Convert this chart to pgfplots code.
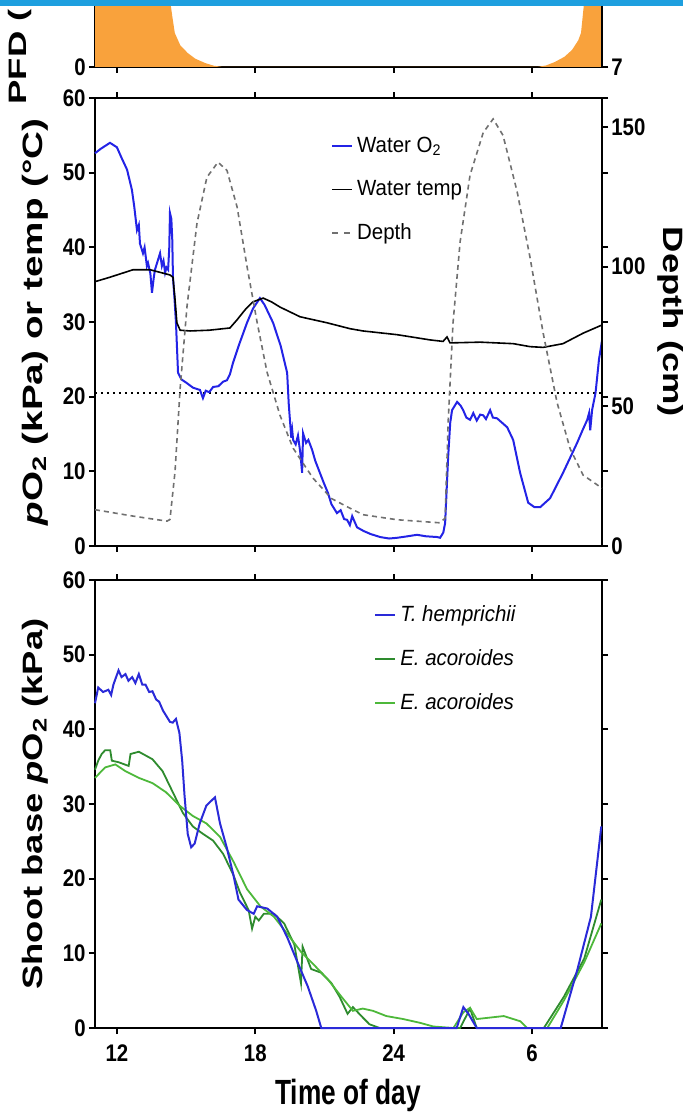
\documentclass[border=0pt]{standalone}
\usepackage{fontspec}
\setmainfont{Liberation Sans}
\newfontfamily\tickfont{Liberation Sans}[FakeStretch=0.85]
\newfontfamily\labfont{Liberation Sans}[FakeStretch=0.75]
\newfontfamily\legfont{Liberation Sans}[FakeStretch=0.93]
\newfontfamily\vfont{Liberation Sans}[FakeStretch=1.3]
\newfontfamily\vfontwide{Liberation Sans}[FakeStretch=1.38]
\newfontfamily\pfdfont{Liberation Sans}[FakeStretch=1.45]
\usepackage{pgfplots}
\pgfplotsset{compat=1.18}
\definecolor{o2blue}{HTML}{2323E6}
\definecolor{thblue}{HTML}{2A2AD8}
\definecolor{dkgreen}{HTML}{2E8B2E}
\definecolor{ltgreen}{HTML}{4DB83A}
\definecolor{pfdorange}{HTML}{F9A23C}
\definecolor{depthgray}{HTML}{707070}
\definecolor{bandblue}{HTML}{1E9FDF}

\tikzset{vlab/.style={font=\vfont\bfseries\fontsize{14}{16}\selectfont}}
\pgfplotsset{
  panel/.style={
    scale only axis, width=253.5pt, anchor=south west,
    xmin=11.05, xmax=33.03,
    xtick={12,18,24,30}, xticklabels={12,18,24,6},
    axis line style={line width=1pt},
    tick align=outside, major tick length=3pt,
    every tick/.style={line width=0.9pt, black},
    tick label style={font=\tickfont\bfseries\fontsize{12}{12}\selectfont},
    /pgf/number format/assume math mode=true,
    yticklabel style={inner sep=1.5pt},
    xticklabel style={yshift=-2pt},
  },
  shortleg/.style={legend image code/.code={\draw[##1] (0pt,0pt) -- (10pt,0pt);}},
}

\begin{document}
\begin{tikzpicture}
\begin{scope}
\clip (0,0) rectangle (341.5pt,557.5pt);

% PFD panel (only its lower part is in view)
\begin{axis}[panel, at={(47.5pt,524pt)}, height=63.5pt,
  ymin=0, ymax=1000, ytick={0}, xticklabels={}]
\addplot[fill=pfdorange, draw=none] coordinates {
  (11.05,1300) (13.9,1300) (14.15,1000) (14.25,600) (14.4,400) (14.51,268)
  (14.75,170) (15.07,110) (15.4,65) (15.83,31) (16.2,10) (16.59,0)
  (30.22,0) (30.6,12) (30.98,39) (31.4,80) (31.73,134) (32.0,210)
  (32.12,268) (32.25,500) (32.35,1300) (33.03,1300)
} \closedcycle;
\end{axis}
\begin{axis}[scale only axis, width=253.5pt, height=63.5pt, anchor=south west,
  at={(47.5pt,524pt)}, axis x line=none, axis y line*=right,
  ymin=7, ymax=8, ytick={7}, xmin=11.05, xmax=33.03,
  axis line style={line width=1pt}, tick align=outside, major tick length=3pt,
  every tick/.style={line width=0.9pt, black},
  tick label style={font=\tickfont\bfseries\fontsize{12}{12}\selectfont},
  /pgf/number format/assume math mode=true, yticklabel style={inner sep=1.5pt}]
\end{axis}

% water O2, temperature and depth
\begin{axis}[panel, at={(47.5pt,284.5pt)}, height=224pt, clip=false,
  ymin=0, ymax=60, ytick={0,10,...,60}, xticklabels={},
  ylabel={\textit{p}O\textsubscript{2} (kPa) or temp (°C)},
  ylabel style={font=\vfontwide\bfseries\fontsize{14}{16}\selectfont,
    at={(axis description cs:-0.118,0.5)}, anchor=center},
  shortleg, legend cell align=left,
  legend style={draw=none, fill=none, at={(axis description cs:0.465,0.923)},
    anchor=north west, row sep=8.5pt, inner sep=0pt,
    font=\legfont\fontsize{11}{13}\selectfont,
    nodes={inner sep=2pt}}]
\addplot[black, dotted, line width=1pt, forget plot] coordinates {(11.05,20.5) (33.03,20.5)};
\addplot[o2blue, line width=1pt] coordinates {
  (11.05,52.6) (11.3,53.2) (11.5,53.6) (11.7,54.0) (11.85,53.7) (12.0,53.4)
  (12.2,52.0) (12.44,50.4) (12.65,47.7) (12.75,45.5) (12.87,42.3) (12.95,43.0)
  (13.0,40.5) (13.13,39.2) (13.2,40.0) (13.3,37.5) (13.35,37.9) (13.45,36.5)
  (13.52,33.9) (13.6,36.0) (13.65,37.0) (13.75,38.0) (13.87,39.2) (13.95,37.5)
  (14.02,38.2) (14.09,36.6) (14.15,37.3) (14.22,37.0) (14.27,40.0) (14.3,44.6)
  (14.36,43.8) (14.4,41.0) (14.43,36.0) (14.5,33.0) (14.56,29.9) (14.65,23.2)
  (14.8,22.3) (15.04,21.8) (15.3,21.2) (15.5,21.0) (15.6,20.9) (15.73,19.8)
  (15.85,20.8) (16.0,20.6) (16.17,21.3) (16.4,21.4) (16.6,22.0) (16.77,22.2)
  (16.9,23.0) (17.03,24.5) (17.3,27.0) (17.64,29.9) (17.9,31.8) (18.2,33.2)
  (18.4,32.3) (18.77,29.9) (19.1,26.8) (19.38,23.2) (19.45,19.0) (19.51,16.5)
  (19.56,14.5) (19.6,15.5) (19.64,14.2) (19.75,13.6) (19.85,14.8) (19.95,12.5)
  (20.03,9.8) (20.07,15.1) (20.2,13.8) (20.3,14.2) (20.46,12.9) (20.6,11.4)
  (20.8,9.8) (20.95,8.6) (21.15,7.1) (21.3,5.6) (21.54,4.4) (21.7,4.8)
  (21.85,3.6) (21.98,3.5) (22.1,2.8) (22.2,4.0) (22.41,2.5) (22.7,2.0)
  (23.0,1.6) (23.41,1.2) (23.8,1.0) (24.15,1.1) (24.6,1.3) (25.01,1.5)
  (25.4,1.3) (25.88,1.2) (26.01,1.1) (26.15,1.8) (26.23,3.1) (26.36,11.9)
  (26.45,16.5) (26.53,18.2) (26.75,19.3) (26.9,18.8) (27.01,18.2) (27.15,17.2)
  (27.31,16.9) (27.45,17.8) (27.6,16.8) (27.75,17.6) (27.88,17.5) (28.0,17.0)
  (28.18,18.2) (28.3,17.2) (28.48,17.1) (28.7,16.5) (28.92,15.9) (29.18,14.2)
  (29.48,9.8) (29.83,5.8) (30.1,5.2) (30.35,5.2) (30.78,6.4) (31.34,9.8)
  (31.95,13.8) (32.2,15.6) (32.39,16.9) (32.47,17.8) (32.52,15.5) (32.6,18.2)
  (32.75,20.5) (32.82,22.6) (32.9,25.0) (33.03,27.5)
};
\addlegendentry{Water O\textsubscript{2}}
\addplot[black, line width=0.8pt] coordinates {
  (11.05,35.4) (11.7,36.0) (12.7,37.0) (13.44,37.0) (14.3,36.3) (14.43,36.0)
  (14.52,33.0) (14.6,29.9) (14.74,28.9) (15.17,28.8) (16.0,28.9) (16.9,29.2)
  (17.21,30.3) (17.6,31.8) (17.9,32.7) (18.34,33.2) (18.7,32.7) (19.07,32.0)
  (19.94,30.7) (21.1,29.9) (22.11,29.1) (22.67,28.8) (24.15,28.3) (25.58,27.6)
  (26.14,27.4) (26.31,28.0) (26.44,27.2) (27.75,27.3) (29.18,27.1) (29.91,26.7)
  (30.48,26.6) (31.34,27.1) (32.21,28.5) (33.03,29.6)
};
\addlegendentry{Water temp}
\addlegendimage{depthgray, dashed, line width=0.8pt}
\addlegendentry{Depth}
\end{axis}
\begin{axis}[scale only axis, width=253.5pt, height=224pt, anchor=south west,
  at={(47.5pt,284.5pt)}, axis x line=none, axis y line*=right, clip=false,
  xmin=11.05, xmax=33.03, ymin=0, ymax=160.4, ytick={0,50,100,150},
  axis line style={line width=1pt}, tick align=outside, major tick length=3pt,
  every tick/.style={line width=0.9pt, black},
  tick label style={font=\tickfont\bfseries\fontsize{12}{12}\selectfont},
  /pgf/number format/assume math mode=true, yticklabel style={inner sep=1.5pt},
  ylabel={Depth (cm)},
  ylabel style={vlab, at={(axis description cs:1.136,0.5)}, anchor=center, rotate=180}]
\addplot[depthgray, line width=0.8pt, dash pattern=on 2.5pt off 2pt] coordinates {
  (11.05,13.0) (12.7,10.7) (14.17,8.9) (14.3,9.5) (14.52,26.7) (14.74,56.3)
  (15.04,85.9) (15.47,115.5) (15.9,132) (16.38,137.4) (16.77,134.5) (17.21,121.4)
  (17.64,100.1) (18.08,80) (18.51,62.2) (19.07,46.8) (19.64,35) (20.5,24.3)
  (21.3,17.0) (22.11,13.5) (22.67,11.2) (24.15,9.4) (26.01,8.3) (26.23,10)
  (26.36,44.3) (26.57,79.7) (26.88,109) (27.31,132.8) (27.88,148) (28.31,152.9)
  (28.74,147) (29.35,126.9) (29.91,103.3) (30.48,76.2) (31.08,51.4) (31.65,34.8)
  (32.21,25.4) (33.03,20.7)
};
\end{axis}

% shoot base pO2
\begin{axis}[panel, at={(47.5pt,43.5pt)}, height=224pt, clip=false,
  ymin=0, ymax=60, ytick={0,10,...,60},
  xlabel={Time of day},
  xlabel style={font=\labfont\bfseries\fontsize{17.5}{19}\selectfont,
    at={(axis description cs:0.499,-0.15)}, anchor=center},
  ylabel={Shoot base \textit{p}O\textsubscript{2} (kPa)},
  ylabel style={vlab, at={(axis description cs:-0.118,0.5)}, anchor=center},
  shortleg, legend cell align=left,
  legend style={draw=none, fill=none, at={(axis description cs:0.55,0.952)},
    anchor=north west, row sep=8.5pt, inner sep=0pt,
    font=\legfont\fontsize{11}{13}\selectfont,
    nodes={inner sep=2pt}}]
\addplot[dkgreen, line width=0.9pt, forget plot] coordinates {
  (11.05,34.6) (11.19,35.8) (11.34,36.7) (11.49,37.2) (11.71,37.2) (11.78,35.8)
  (12.07,35.6) (12.51,35.1) (12.59,36.7) (12.95,37.0) (13.54,36.0) (13.98,34.4)
  (14.42,31.6) (14.86,28.8) (15.29,27.0) (15.73,26.0) (16.17,25.1) (16.61,23.3)
  (17.05,20.5) (17.34,18.1) (17.71,15.8) (17.86,13.3) (18.0,14.9) (18.15,14.4)
  (18.37,15.3) (18.81,15.3) (19.25,14.0) (19.69,11.2) (19.98,6.0) (20.05,10.9)
  (20.42,7.9) (20.86,7.4) (21.3,6.0) (21.65,4.2) (22.0,1.9) (22.23,2.8)
  (22.66,1.4) (22.95,0.5) (23.39,0) (26.88,0) (27.31,2.6) (27.6,0)
  (30.51,0) (31.38,4.2) (32.26,9.3) (33.0,17.2)
};
\addplot[ltgreen, line width=0.9pt, forget plot] coordinates {
  (11.05,33.5) (11.49,34.9) (11.93,35.3) (12.37,34.4) (12.95,33.5) (13.54,32.8)
  (14.12,31.6) (14.71,29.8) (15.29,28.4) (15.88,27.4) (16.47,25.6) (17.05,22.3)
  (17.64,18.6) (18.22,16.3) (18.81,14.9) (19.39,12.6) (19.98,10.2) (20.56,8.4)
  (21.15,6.5) (21.73,4.2) (22.23,2.3) (22.66,2.6) (23.1,2.3) (23.68,1.6)
  (24.41,1.2) (25.13,0.7) (25.72,0.2) (26.59,0) (27.02,2.1) (27.31,2.7)
  (27.6,1.2) (28.19,1.4) (28.77,1.6) (29.49,0.9) (29.78,0) (30.66,0)
  (31.38,3.7) (32.26,8.8) (33.0,14.0)
};
\addplot[thblue, line width=1pt, forget plot] coordinates {
  (11.05,43.5) (11.19,45.6) (11.4,45.0) (11.63,45.3) (11.75,44.6) (11.85,46.0)
  (12.07,47.9) (12.2,47.0) (12.37,47.4) (12.5,46.5) (12.66,47.0) (12.8,46.2)
  (12.95,47.4) (13.1,46.0) (13.24,46.0) (13.4,45.0) (13.54,45.1) (13.7,44.0)
  (13.83,43.7) (14.0,42.5) (14.12,41.9) (14.3,41.0) (14.42,40.9) (14.56,41.4)
  (14.71,39.5) (14.83,35.8) (14.93,31.2) (15.07,26.0) (15.22,24.2) (15.37,24.7)
  (15.59,27.4) (15.88,29.8) (16.25,30.9) (16.47,27.4) (16.76,24.2) (17.05,20.5)
  (17.27,17.2) (17.64,15.8) (17.93,15.3) (18.08,16.3) (18.52,16.0) (18.95,14.9)
  (19.39,12.1) (19.83,8.8) (20.27,5.6) (20.64,2.3) (20.86,0) (26.73,0)
  (27.02,2.8) (27.24,1.9) (27.6,0) (31.24,0) (31.97,7.9) (32.55,14.9) (33.0,27.0)
};
\addlegendimage{thblue, line width=1pt}
\addlegendentry{\textit{T. hemprichii}}
\addlegendimage{dkgreen, line width=0.9pt}
\addlegendentry{\textit{E. acoroides}}
\addlegendimage{ltgreen, line width=0.9pt}
\addlegendentry{\textit{E. acoroides}}
\end{axis}

\fill[bandblue] (0,554.5pt) rectangle (341.5pt,557.5pt);
\node[rotate=90, anchor=west, inner sep=0pt,
  font=\pfdfont\bfseries\fontsize{12.6}{14}\selectfont] at (10pt,505pt) {PFD (};
\end{scope}
\pgfresetboundingbox
\useasboundingbox (0,0) rectangle (341.5pt,557.5pt);
\end{tikzpicture}
\end{document}
